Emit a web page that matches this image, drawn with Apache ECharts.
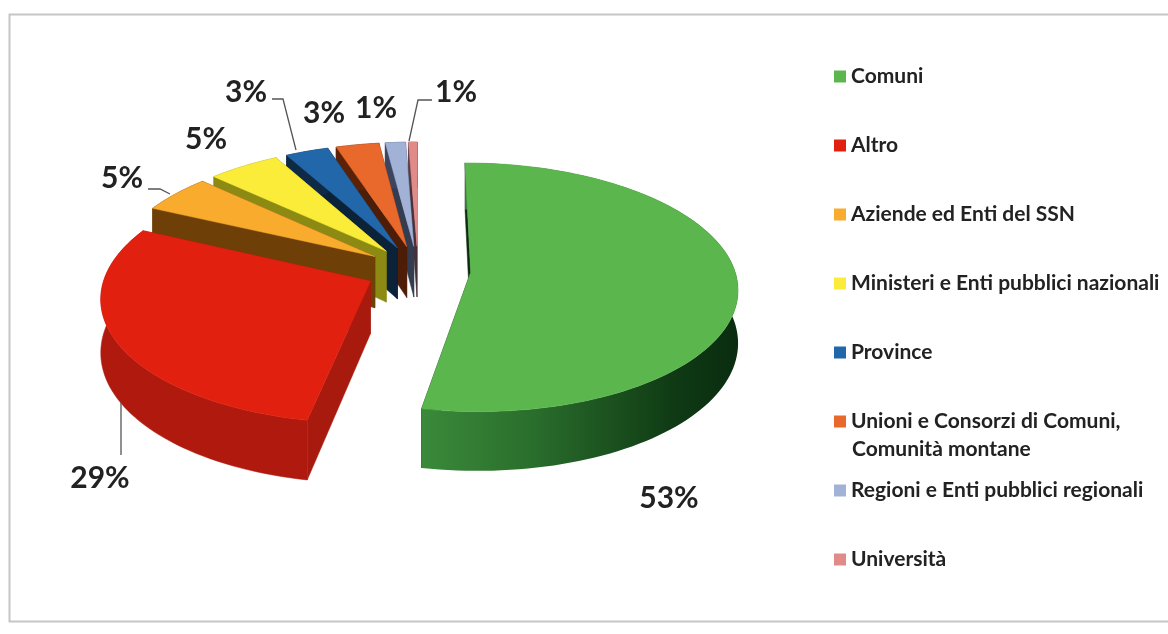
<!DOCTYPE html>
<html><head><meta charset="utf-8">
<style>html,body{margin:0;padding:0;background:#fff}#c{width:1168px;height:634px}</style>
<script src="https://cdn.jsdelivr.net/npm/echarts@6/dist/echarts.min.js"></script>
</head><body><div id="c"></div>
<script>
const categories = ["Comuni","Altro","Aziende ed Enti del SSN","Ministeri e Enti pubblici nazionali","Province","Unioni e Consorzi di Comuni,\nComunità montane","Regioni e Enti pubblici regionali","Università"];
const values = [53,29,5,5,3,3,1.4,0.6];
const topColors = ["#5cb64e","#e2200f","#f9ab2e","#fbec3a","#2267aa","#e8692b","#a2b2d6","#e08b88"];
const wallColors = ["#2c7a2e","#b01a0e","#6e4008","#8c8a12","#0e2a44","#5c2208","#3c4560","#5a3a44"];
const innerColors = ["#0c2a10","#a81a0e","#6e4008","#8c8a12","#0b2238","#4e1d08","#343c52","#4a3038"];

const CX=418, CY=270, RX=264, RY=122, K=0.12, E=0.2, T=52;
function proj(X,Y){const w=1/(1-K*Y);return {x:CX+RX*X*w,y:CY+RY*Y*w,b:CY+RY*Y*w+T*w};}
const total=values.reduce((a,b)=>a+b,0);
const starts=[];values.reduce((a,v,i)=>{starts[i]=a;return a+v;},0);

function renderSlice(params,api,idx){
  const v=api.value(0);
  const a0=starts[idx]/total*2*Math.PI, a1=a0+v/total*2*Math.PI, m=(a0+a1)/2;
  const ox=E*Math.sin(m), oy=-E*Math.cos(m);
  const apex=proj(ox,oy);
  const n=Math.max(2,Math.ceil((a1-a0)/0.03));
  const rim=[];
  for(let i=0;i<=n;i++){const a=a0+(a1-a0)*i/n;rim.push(proj(ox+Math.sin(a),oy-Math.cos(a)));}
  const first=rim[0], last=rim[n];
  const top=[[apex.x,apex.y]].concat(rim.map(p=>[p.x,p.y]));
  const outer=rim.map(p=>[p.x,p.y]).concat(rim.slice().reverse().map(p=>[p.x,p.b]));
  const quad=p=>[[apex.x,apex.y],[p.x,p.y],[p.x,p.b],[apex.x,apex.b]];
  const fill=idx===0?new echarts.graphic.LinearGradient(0,0,1,0,[{offset:0,color:"#3a8a3a"},{offset:0.35,color:"#2a6e2c"},{offset:0.8,color:"#0f3a14"},{offset:1,color:"#0a2c10"}]):wallColors[idx];
  const poly=(pts,c)=>({type:"polygon",shape:{points:pts},style:{fill:c,stroke:typeof c==="string"?c:null,lineWidth:typeof c==="string"?0.5:0}});
  return {type:"group",children:[
    poly(quad(first),innerColors[idx]),
    poly(quad(last),innerColors[idx]),
    poly(outer,fill),
    poly(top,topColors[idx])
  ]};
}
const series=categories.map((name,i)=>({
  type:"custom",name,coordinateSystem:"none",z:12-i,silent:true,animation:false,
  itemStyle:{color:topColors[i]},
  data:[[values[i]]],
  renderItem:(p,a)=>renderSlice(p,a,i)
}));

const pct=values.map(v=>Math.round(v)+"%");
const labelCenters=[[669,498],[100,478],[122,178],[206,139],[246,92],[324,113],[376,108],[456,92]];
const leaders=[[[121,402],[121,455]],[[148,189],[160,189],[170,194]],[[272,99],[283,99],[296,150]],[[432,100],[418,100],[409,141]]];
const graphic=[
  {type:"rect",shape:{x:9.5,y:14.5,width:1175,height:607},style:{fill:"#fff",stroke:"#c6c6c6",lineWidth:2},z:0,silent:true}
];
pct.forEach((t,i)=>graphic.push({type:"text",x:labelCenters[i][0],y:labelCenters[i][1],z:20,silent:true,
  style:{text:t,fill:"#222",font:"bold 30px Lato",align:"center",verticalAlign:"middle"}}));
leaders.forEach(l=>graphic.push({type:"polyline",shape:{points:l},z:20,silent:true,style:{stroke:"#555",lineWidth:1.3,fill:null}}));
graphic.push({type:"text",x:852,y:449,z:20,silent:true,style:{text:categories[5].split("\n")[1],fill:"#222",font:"bold 21px Lato",align:"left",verticalAlign:"middle"}});

const chart=echarts.init(document.getElementById("c"),null,{renderer:"canvas"});
chart.setOption({
  animation:false,
  backgroundColor:"#fff",
  graphic,
  legend:{
    orient:"vertical",left:829,top:61,itemWidth:12,itemHeight:12,itemGap:48,icon:"rect",
    selectedMode:false,data:categories,
    formatter:n=>n.split("\n")[0],
    textStyle:{fontFamily:"Lato",fontWeight:"bold",fontSize:21,color:"#222",lineHeight:20,padding:[0,0,0,0]}
  },
  series
});
</script></body></html>
